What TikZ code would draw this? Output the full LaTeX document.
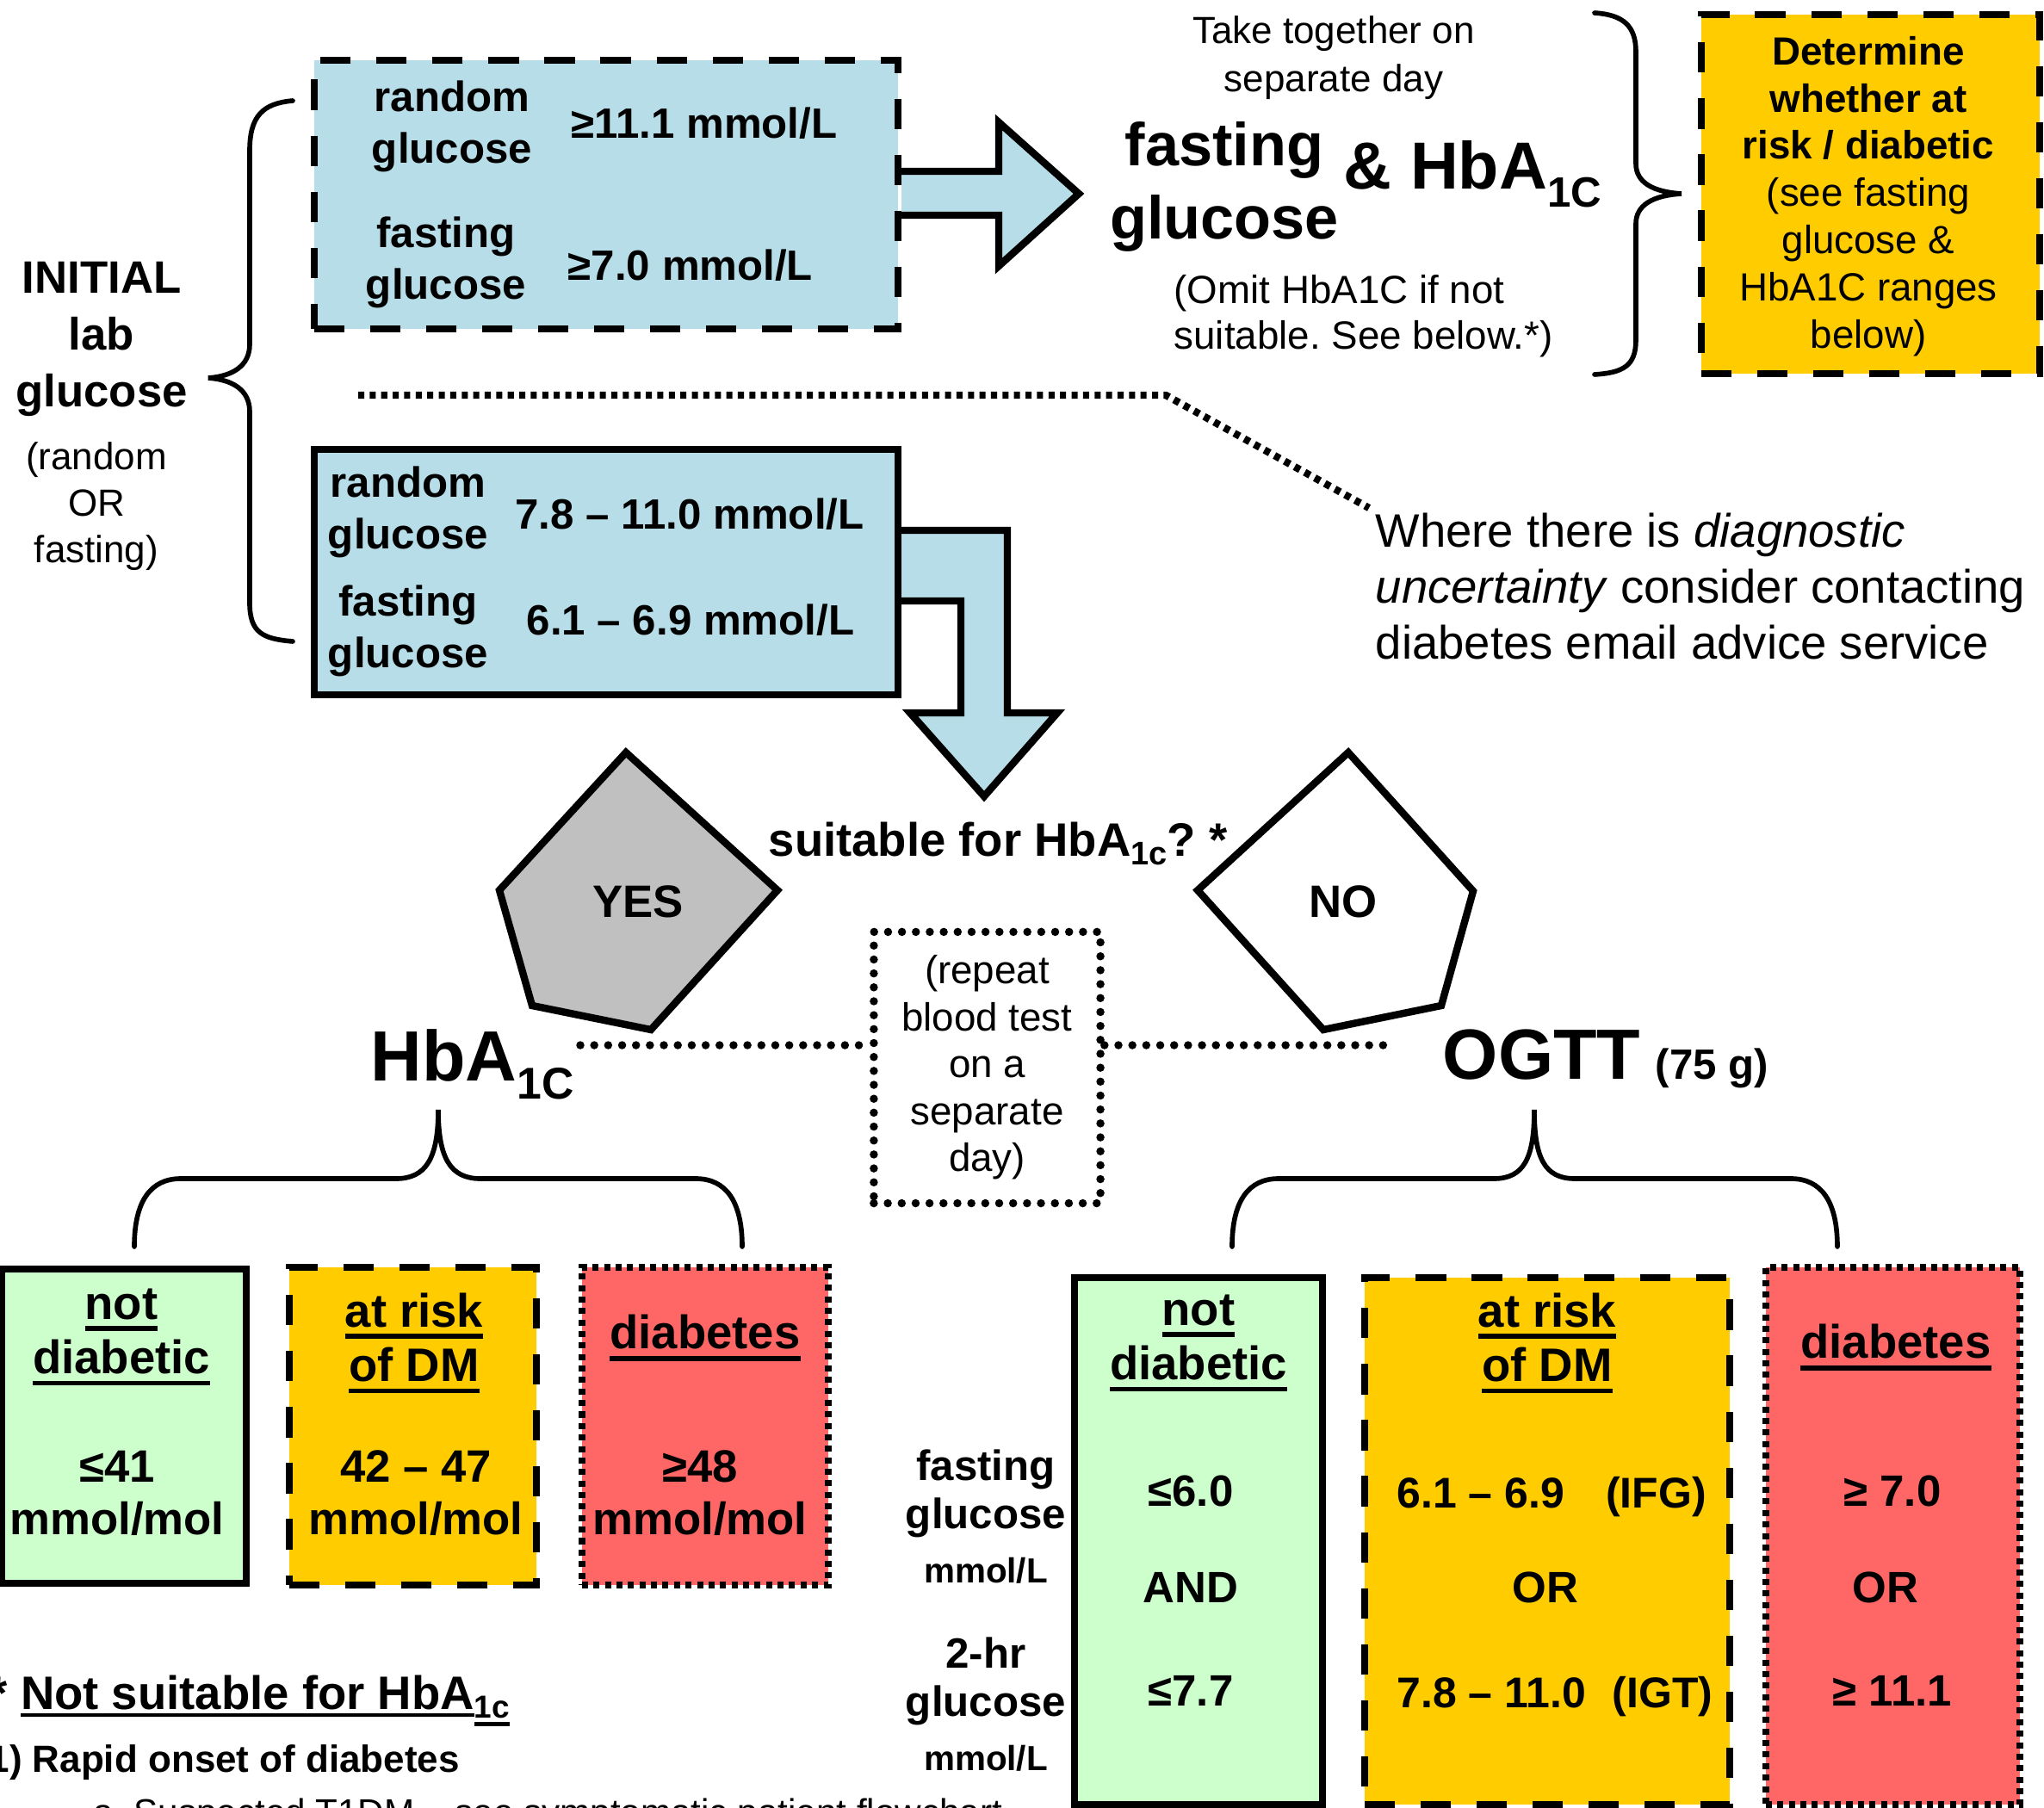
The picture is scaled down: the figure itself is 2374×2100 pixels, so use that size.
\documentclass[tikz,border=0pt]{standalone}
\usepackage{fontspec}
\setmainfont{Liberation Sans}
\frenchspacing
\definecolor{cblue}{HTML}{B7DEE8}
\definecolor{cgray}{HTML}{C0C0C0}
\definecolor{cgreen}{HTML}{CCFFCC}
\definecolor{cyellow}{HTML}{FFCC00}
\definecolor{cred}{HTML}{FF6666}
\newcommand{\fs}[2]{\fontsize{#1}{#2}\selectfont}
\newcommand{\ulin}[3]{\setbox0=\hbox{#3}\rlap{\rule[-#1]{\wd0}{#2}}\box0}
\newcommand{\tul}[1]{\ulin{3.9pt}{1.6pt}{#1}}
\begin{document}
\begin{tikzpicture}[x=0.01cm,y=-0.01cm,
  lbl/.style={inner sep=0pt, align=center},
  bx/.style={line width=2.4pt},
  dashbox/.style={line width=2.4pt, dash pattern=on 10pt off 8.5pt},
  sqdot/.style={line width=2.4pt, dash pattern=on 2pt off 1.8pt},
  rddot/.style={line width=2.7pt, dash pattern=on 0pt off 4.6pt, line cap=round},
  brc/.style={line width=1.6pt, line cap=round},
  boxn/.style={inner sep=0pt, draw}]
\path[use as bounding box] (0,0) rectangle (2374,2100);
\clip (0,0) rectangle (2374,2100);
\fill[white] (0,0) rectangle (2374,2100);

% ---------- left label and brace
\node[lbl, font=\fs{15}{18.8}\bfseries] (init) at (118,394) {INITIAL\\lab\\glucose};
\node[lbl, font=\fs{12.5}{15.3}] (initsub) at (112,588) {(random\\OR\\fasting)};
\draw[brc] (340,117) .. controls (305,120) and (290,135) .. (290,175) -- (290,400)
  .. controls (290,425) and (270,437) .. (242,439)
  .. controls (270,441) and (290,453) .. (290,478) -- (290,700)
  .. controls (290,735) and (305,742) .. (340,745);

% ---------- top blue box
\node[boxn, dashbox, fill=cblue, minimum width=6.78cm, minimum height=3.12cm] (box1) at (704,226) {};
\node[lbl, font=\fs{14}{17}\bfseries] (b1a) at (525,147) {random\\glucose};
\node[lbl, font=\fs{14}{17}\bfseries] (b1b) at (818,143) {≥11.1 mmol/L};
\node[lbl, font=\fs{14}{17}\bfseries] (b1c) at (518,305) {fasting\\glucose};
\node[lbl, font=\fs{14}{17}\bfseries] (b1d) at (802,308) {≥7.0 mmol/L};

% top block arrow
\fill[cblue] (1047,199) -- (1160,199) -- (1160,142) -- (1253,225) -- (1160,309) -- (1160,250) -- (1047,250) -- cycle;
\draw[bx] (1043,199) -- (1160,199) -- (1160,142) -- (1253,225) -- (1160,309) -- (1160,250) -- (1043,250);

% ---------- second blue box
\node[boxn, bx, fill=cblue, minimum width=6.78cm, minimum height=2.85cm] (box2) at (704,664.5) {};
\node[lbl, font=\fs{14}{17}\bfseries] (b2a) at (474,595) {random\\glucose};
\node[lbl, font=\fs{14}{17}\bfseries] (b2b) at (801,597) {7.8 – 11.0 mmol/L};
\node[lbl, font=\fs{14}{17}\bfseries] (b2c) at (474,733) {fasting\\glucose};
\node[lbl, font=\fs{14}{17}\bfseries] (b2d) at (802,720) {6.1 – 6.9 mmol/L};

% bent block arrow
\fill[cblue] (1047,616) -- (1170,616) -- (1170,828) -- (1228,828) -- (1143,925) -- (1057,828) -- (1116,828) -- (1116,698) -- (1047,698) -- cycle;
\draw[bx] (1043,616) -- (1170,616) -- (1170,828) -- (1228,828) -- (1143,925) -- (1057,828) -- (1116,828) -- (1116,698) -- (1043,698);

% ---------- top centre texts
\node[lbl, font=\fs{12.5}{16}] (take) at (1549,67) {Take together on\\separate day};
\node[lbl, font=\fs{20}{24}\bfseries] (fg) at (1422,217) {fasting\\glucose};
\node[anchor=base west, inner sep=0pt, font=\fs{22}{26}\bfseries] (hbtop) at (1560,220) {\& HbA\raisebox{-5.7pt}{\fs{14}{14}1C}};
\node[anchor=west, inner sep=0pt, align=left, font=\fs{13}{15}] (omit) at (1363,367) {(Omit HbA1C if not\\suitable. See below.*)};

% right brace
\draw[brc] (1852,15) .. controls (1885,17) and (1900,30) .. (1900,60) -- (1900,190)
  .. controls (1900,212) and (1920,223) .. (1953,225)
  .. controls (1920,227) and (1900,238) .. (1900,260) -- (1900,395)
  .. controls (1900,425) and (1885,433) .. (1852,435);

% yellow top box
\node[boxn, dashbox, fill=cyellow, minimum width=3.93cm, minimum height=4.17cm] (ybox) at (2172.5,225.5) {};
\node[lbl, font=\fs{13}{15.6}] (det) at (2170,228) {\textbf{Determine}\\\textbf{whether at}\\\textbf{risk / diabetic}\\(see fasting\\glucose \&\\HbA1C ranges\\below)};

% ---------- dotted note line and note
\node[anchor=west, inner sep=0pt, align=left, font=\fs{15.5}{18.5}] (note) at (1597,681) {Where there is \textit{diagnostic}\\\textit{uncertainty} consider contacting\\diabetes email advice service};
\coordinate (n1) at (416,459);
\coordinate (n2) at (1354,459);
\coordinate (n3) at (1590,590);
\draw[sqdot] (n1) -- (n2) -- (n3);

% ---------- decision
\node[anchor=base west, inner sep=0pt, font=\fs{15.5}{18}\bfseries] (suit) at (892,994) {suitable for HbA\raisebox{-3pt}{\fs{10.8}{12}1c}? *};
\draw[bx, fill=cgray] (727,874) -- (903,1034) -- (756,1196) -- (618,1168) -- (580,1034) -- cycle;
\node[font=\fs{15}{18}\bfseries, inner sep=0pt] (yes) at (741,1047) {YES};
\draw[bx, fill=white] (1566,874) -- (1711,1035) -- (1674,1168) -- (1537,1196) -- (1391,1034) -- cycle;
\node[font=\fs{15}{18}\bfseries, inner sep=0pt] (no) at (1560,1047) {NO};

% repeat box and dotted lines
\node[boxn, rddot, minimum width=2.63cm, minimum height=3.15cm, align=center, font=\fs{13}{15.5}] (rep) at (1146.5,1240) {(repeat\\blood test\\on a\\separate\\day)};
\node[anchor=base west, inner sep=0pt, font=\fs{23.5}{28}\bfseries] (hba) at (430,1255) {HbA\raisebox{-6pt}{\fs{14.7}{16}1C}};
\node[anchor=base west, inner sep=0pt] (ogtt) at (1675,1253) {{\fs{23.5}{28}\bfseries OGTT}\hspace{5pt}{\fs{14}{17}\bfseries (75 g)}};
\coordinate (dL) at (674,1214);
\coordinate (dR) at (1617,1214);
\draw[rddot] (dL) -- (dL -| rep.west);
\draw[rddot] (dR -| rep.east) -- (dR);

% braces under HbA1c / OGTT
\draw[brc] (156,1448) .. controls (156,1395) and (175,1369) .. (210,1369) -- (460,1369)
  .. controls (495,1369) and (509,1345) .. (509,1289)
  .. controls (509,1345) and (523,1369) .. (558,1369) -- (808,1369)
  .. controls (843,1369) and (862,1395) .. (862,1448);
\draw[brc] (1431,1448) .. controls (1431,1395) and (1450,1369) .. (1485,1369) -- (1735,1369)
  .. controls (1770,1369) and (1782,1345) .. (1782,1289)
  .. controls (1782,1345) and (1794,1369) .. (1829,1369) -- (2080,1369)
  .. controls (2115,1369) and (2134,1395) .. (2134,1448);

% ---------- HbA1c result boxes
\node[boxn, bx, fill=cgreen, minimum width=2.84cm, minimum height=3.65cm] (g1) at (144,1656.5) {};
\node[boxn, dashbox, fill=cyellow, minimum width=2.87cm, minimum height=3.69cm] (y1) at (479.5,1656.5) {};
\node[boxn, sqdot, fill=cred, minimum width=2.86cm, minimum height=3.69cm] (r1) at (819,1656.5) {};
\node[lbl, font=\fs{15.5}{18}\bfseries] (g1t) at (141,1553) {\tul{not}\\\tul{diabetic}};
\node[lbl, font=\fs{15}{17.4}\bfseries] (g1v) at (136,1734) {≤41\\mmol/mol};
\node[lbl, font=\fs{15.5}{18}\bfseries] (y1t) at (481,1560) {\tul{at risk}\\\tul{of DM}};
\node[lbl, font=\fs{15}{17.4}\bfseries] (y1v) at (483,1734) {42 – 47\\mmol/mol};
\node[lbl, font=\fs{15.5}{18}\bfseries] (r1t) at (819,1554) {\tul{diabetes}};
\node[lbl, font=\fs{15}{17.4}\bfseries] (r1v) at (813,1734) {≥48\\mmol/mol};

% ---------- OGTT labels
\node[lbl, font=\fs{14}{16}\bfseries] (lf) at (1145,1735) {fasting\\glucose};
\node[lbl, font=\fs{11.5}{14}\bfseries] (lfu) at (1145,1824) {mmol/L};
\node[lbl, font=\fs{14}{16}\bfseries] (lt) at (1145,1953) {2-hr\\glucose};
\node[lbl, font=\fs{11.5}{14}\bfseries] (ltu) at (1145,2042) {mmol/L};

% ---------- OGTT result boxes
\node[boxn, bx, fill=cgreen, minimum width=2.88cm, minimum height=6.12cm] (g2) at (1392,1790) {};
\node[boxn, dashbox, fill=cyellow, minimum width=4.24cm, minimum height=6.12cm] (y2) at (1797,1790) {};
\node[boxn, sqdot, fill=cred, minimum width=2.95cm, minimum height=6.24cm] (r2) at (2198.5,1784) {};
\node[lbl, font=\fs{15.5}{18}\bfseries] (g2t) at (1392,1560) {\tul{not}\\\tul{diabetic}};
\node[lbl, font=\fs{14.5}{17}\bfseries] (g2a) at (1383,1732) {≤6.0};
\node[lbl, font=\fs{14.5}{17}\bfseries] (g2b) at (1383,1844) {AND};
\node[lbl, font=\fs{14.5}{17}\bfseries] (g2c) at (1383,1964) {≤7.7};
\node[lbl, font=\fs{15.5}{18}\bfseries] (y2t) at (1797,1560) {\tul{at risk}\\\tul{of DM}};
\node[anchor=west, inner sep=0pt, font=\fs{14.2}{17}\bfseries] (y2a) at (1622,1739) {6.1 – 6.9\hspace{13.7pt}(IFG)};
\node[lbl, font=\fs{14.5}{17}\bfseries] (y2b) at (1795,1844) {OR};
\node[anchor=west, inner sep=0pt, font=\fs{14.2}{17}\bfseries] (y2c) at (1622,1971) {7.8 – 11.0\hspace{8.8pt}(IGT)};
\node[lbl, font=\fs{15.5}{18}\bfseries] (r2t) at (2202,1565) {\tul{diabetes}};
\node[lbl, font=\fs{14.5}{17}\bfseries] (r2a) at (2198,1732) {≥ 7.0};
\node[lbl, font=\fs{14.5}{17}\bfseries] (r2b) at (2190,1844) {OR};
\node[lbl, font=\fs{14.5}{17}\bfseries] (r2c) at (2198,1964) {≥ 11.1};

% ---------- footnote (cut off at the edges, as in the reference)
\node[anchor=base west, inner sep=0pt, font=\fs{15.5}{18}\bfseries] (ns) at (-13,1985) {* \ulin{2.6pt}{1.2pt}{Not suitable for HbA}\raisebox{-3pt}{\ulin{2.6pt}{1.2pt}{\fs{10.5}{12}1c}}};
\node[anchor=base west, inner sep=0pt, font=\fs{12.5}{15}\bfseries] (rap) at (-14,2058) {1) Rapid onset of diabetes};
\node[anchor=base west, inner sep=0pt, font=\fs{12}{14}] (sus) at (108,2119) {a. Suspected T1DM – see symptomatic patient flowchart};
\end{tikzpicture}
\end{document}
